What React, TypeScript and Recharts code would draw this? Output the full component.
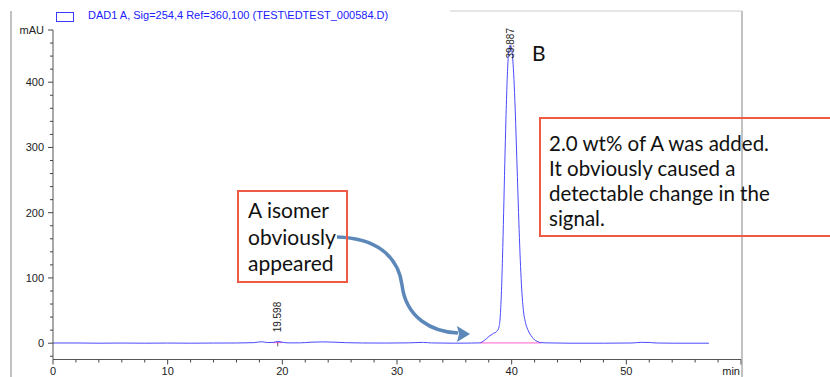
import React from "react";
import { LineChart, Line, XAxis, YAxis, ReferenceDot } from "recharts";

document.body.style.margin = "0";

// retention time (min) and absorbance (mAU)
const times = [
  0, 2, 4, 6, 8, 10, 12, 14, 16, 17.5, 18.2, 18.7, 19.2, 19.6, 20.0, 20.5,
  21.5, 22.5, 23.5, 24.5, 25.5, 27, 29, 31, 32.3, 33, 35, 36.5, 37.2, 37.6,
  38.0, 38.4, 38.7, 38.9, 39.0, 39.1, 39.2, 39.3, 39.4, 39.5, 39.6, 39.7,
  39.8, 39.887, 40.0, 40.1, 40.2, 40.3, 40.4, 40.5, 40.6, 40.7, 40.8, 40.9,
  41.0, 41.2, 41.4, 41.6, 41.8, 42.0, 42.2, 42.5, 43, 45, 48, 50.5, 51.3,
  52, 52.6, 54, 57.2,
];
const mAU = [
  0.3, 0.3, 0, 0.2, 0, 0.2, 0, 0.2, 0.3, 0.8, 2.2, 1, 1.2, 2.8, 1.5, 0.5,
  0.5, 1.5, 2, 1.6, 0.8, 0.3, 0.2, 0.5, 1.2, 0.4, 0, 0.2, 0.5, 4,
  10, 15, 18, 25, 40, 75, 130, 200, 275, 343, 400, 438,
  454, 457, 451, 434, 404, 362, 310, 255, 200, 150, 108, 76,
  54, 32, 21, 14, 9, 5, 3, 1, 0.5, 0, 0, 0.3, 1.3,
  1.1, 0.3, 0, 0,
];

// integration baselines (pink)
const baseTimes1 = [19.2, 20.0];
const baseVals1 = [0.8, 0.8];
const baseTimes2 = [37.2, 42.6];
const baseVals2 = [0.4, 0.4];

const peakTimes = [19.598, 39.887];
const peakHeights = [2.8, 457];
const peakLabels = ["19.598", "39.887"];

const xTicks = [
  0, 2, 4, 6, 8, 10, 12, 14, 16, 18, 20, 22, 24, 26, 28, 30, 32, 34, 36, 38,
  40, 42, 44, 46, 48, 50, 52, 54, 56, 58, 60,
];
const yTicks = [
  -20, 0, 20, 40, 60, 80, 100, 120, 140, 160, 180, 200, 220, 240, 260, 280,
  300, 320, 340, 360, 380, 400, 420, 440, 460, 480,
];

const legendText = "DAD1 A, Sig=254,4 Ref=360,100 (TEST\\EDTEST_000584.D)";

const trace = times.map((t, i) => ({ t, v: mAU[i] }));
const base1 = baseTimes1.map((t, i) => ({ t, v: baseVals1[i] }));
const base2 = baseTimes2.map((t, i) => ({ t, v: baseVals2[i] }));

const axisFont = "'Liberation Sans', Arial, sans-serif";
const noteFont = "Lato, 'Open Sans', sans-serif";

const XTick = (props: any) => {
  const { x, y, payload } = props;
  const v = payload.value;
  const major = v % 10 === 0;
  const label = v === 60 ? "min" : major ? String(v) : "";
  return (
    <g>
      <line x1={x} x2={x} y1={y} y2={y + (major ? 5 : 3)} stroke="#444" />
      {label && (
        <text
          x={v === 60 ? x - 1 : x}
          y={y + 15}
          textAnchor={v === 60 ? "end" : "middle"}
          fontSize={11}
          fontFamily={axisFont}
          fill="#222"
        >
          {label}
        </text>
      )}
    </g>
  );
};

const YTick = (props: any) => {
  const { x, y, payload } = props;
  const v = payload.value;
  const major = v % 100 === 0 || v === 480;
  const label = v === 480 ? "mAU" : v % 100 === 0 ? String(v) : "";
  return (
    <g>
      <line x1={x - (major ? 5 : 3)} x2={x} y1={y} y2={y} stroke="#444" />
      {label && (
        <text
          x={x - 9}
          y={y}
          dy="0.35em"
          textAnchor="end"
          fontSize={11}
          fontFamily={axisFont}
          fill="#222"
        >
          {label}
        </text>
      )}
    </g>
  );
};

const PeakLabel = ({ cx, cy, text }: any) => {
  const len = text.length * 5.1;
  let bottom = cy - 9;
  if (bottom - len < 28) bottom = 28 + len;
  return (
    <g>
      <line x1={cx} x2={cx} y1={cy + 1} y2={cy + 5} stroke="#333" strokeWidth={0.8} />
      <text
        x={cx}
        y={bottom}
        dy="0.35em"
        transform={`rotate(-90 ${cx} ${bottom})`}
        textAnchor="start"
        fontSize={10}
        fontFamily={axisFont}
        fill="#222"
      >
        {text}
      </text>
    </g>
  );
};

const boxStyle: React.CSSProperties = {
  position: "absolute",
  border: "2px solid #ee5a45",
  boxSizing: "border-box",
  fontFamily: noteFont,
  color: "#111",
};

export default function App() {
  return (
    <div
      style={{
        position: "relative",
        width: 830,
        height: 377,
        overflow: "hidden",
        background: "#fff",
      }}
    >
      <LineChart
        width={830}
        height={377}
        data={trace}
        margin={{ top: 30, right: 89, bottom: 0, left: 0 }}
      >
        <XAxis
          dataKey="t"
          type="number"
          domain={[0, 60]}
          ticks={xTicks}
          interval={0}
          height={17.5}
          tickSize={0}
          tickMargin={0}
          tick={<XTick />}
          stroke="#555"
          allowDataOverflow
        />
        <YAxis
          type="number"
          domain={[-25, 480]}
          ticks={yTicks}
          interval={0}
          width={53}
          tickSize={0}
          tickMargin={0}
          tick={<YTick />}
          stroke="#555"
          allowDataOverflow
        />
        <Line
          data={base1}
          dataKey="v"
          stroke="#ff5fd0"
          strokeWidth={1}
          dot={false}
          isAnimationActive={false}
        />
        <Line
          data={base2}
          dataKey="v"
          stroke="#ff5fd0"
          strokeWidth={1}
          dot={false}
          isAnimationActive={false}
        />
        <Line
          dataKey="v"
          type="monotone"
          stroke="#4a4aff"
          strokeWidth={1}
          dot={false}
          isAnimationActive={false}
        />
        {peakTimes.map((t, i) => (
          <ReferenceDot
            key={peakLabels[i]}
            x={t}
            y={peakHeights[i]}
            r={0}
            ifOverflow="visible"
            shape={(p: any) => (
              <PeakLabel cx={p.cx} cy={p.cy} text={peakLabels[i]} />
            )}
          />
        ))}
      </LineChart>

      {/* instrument frame */}
      <svg
        width={830}
        height={377}
        style={{ position: "absolute", left: 0, top: 0, pointerEvents: "none" }}
      >
        <line x1={11} y1={11} x2={11} y2={377} stroke="#999" strokeWidth={1.2} />
        <line x1={742} y1={11} x2={742} y2={377} stroke="#999" strokeWidth={1.2} />
        <line x1={450} y1={11} x2={742} y2={11} stroke="#ccc" strokeWidth={1} />
        <path
          d="M337,237 C375,238 398,255 402,285 C406,318 432,332 458,333"
          fill="none"
          stroke="#5b87b9"
          strokeWidth={3.5}
        />
        <polygon points="470,334 457,326 459,334 457,342" fill="#5b87b9" />
      </svg>

      {/* legend */}
      <div
        style={{
          position: "absolute",
          left: 56,
          top: 12,
          width: 16,
          height: 8,
          border: "1px solid #3a3aff",
        }}
      />
      <div
        style={{
          position: "absolute",
          left: 88,
          top: 9,
          fontFamily: axisFont,
          fontSize: 11,
          color: "#2020ff",
          whiteSpace: "nowrap",
        }}
      >
        {legendText}
      </div>

      <div
        style={{
          position: "absolute",
          left: 532,
          top: 40,
          fontFamily: noteFont,
          fontSize: 21,
          color: "#111",
        }}
      >
        B
      </div>

      <div
        style={{
          ...boxStyle,
          left: 237,
          top: 190,
          width: 111,
          height: 93,
          padding: "5px 0 0 9px",
          fontSize: 21,
          lineHeight: "26.5px",
        }}
      >
        A isomer
        <br />
        obviously
        <br />
        appeared
      </div>

      <div
        style={{
          ...boxStyle,
          left: 539,
          top: 117,
          width: 320,
          height: 120,
          padding: "12px 0 0 8px",
          fontSize: 20.5,
          lineHeight: "25px",
        }}
      >
        2.0 wt% of A was added.
        <br />
        It obviously caused a
        <br />
        detectable change in the
        <br />
        signal.
      </div>
    </div>
  );
}
